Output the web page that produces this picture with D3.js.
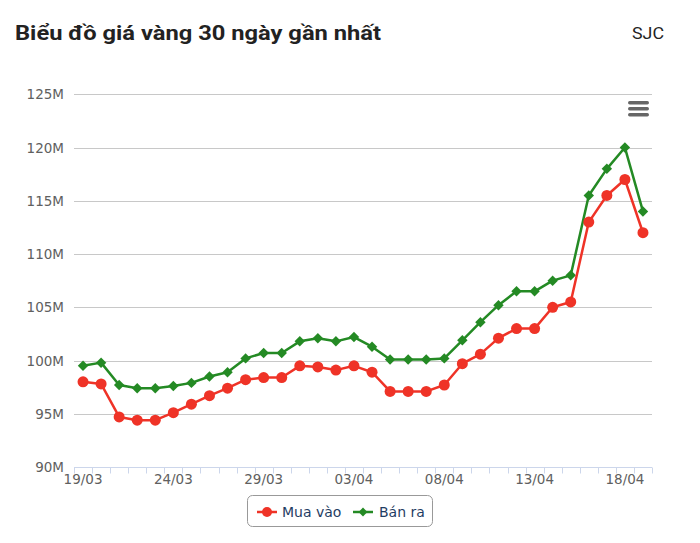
<!DOCTYPE html>
<html>
<head>
<meta charset="utf-8">
<script src="https://cdn.jsdelivr.net/npm/d3@7"></script>
<style>
  body { margin: 0; background: #fff; }
  svg { display: block; }
</style>
</head>
<body>
<svg id="chart" width="700" height="543"></svg>
<script>
const dates = ['19/03','20/03','21/03','22/03','23/03','24/03','25/03','26/03','27/03','28/03',
    '29/03','30/03','31/03','01/04','02/04','03/04','04/04','05/04','06/04','07/04',
    '08/04','09/04','10/04','11/04','12/04','13/04','14/04','15/04','16/04','17/04',
    '18/04','19/04'];

// triệu đồng / lượng
const muaVao = [98.0, 97.8, 94.7, 94.4, 94.4, 95.1, 95.9, 96.7, 97.4, 98.2,
    98.4, 98.4, 99.5, 99.4, 99.1, 99.5, 98.9, 97.1, 97.1, 97.1,
    97.7, 99.7, 100.6, 102.1, 103.0, 103.0, 105.0, 105.5, 113.0, 115.5,
    117.0, 112.0];
const banRa = [99.5, 99.8, 97.7, 97.4, 97.4, 97.6, 97.9, 98.5, 98.9, 100.2,
    100.7, 100.7, 101.8, 102.1, 101.8, 102.2, 101.3, 100.1, 100.1, 100.1,
    100.2, 101.9, 103.6, 105.2, 106.5, 106.5, 107.5, 108.0, 115.5, 118.0,
    120.0, 114.0];

const yTicks = [90, 95, 100, 105, 110, 115, 120, 125];
const labelEvery = 5;

const RED = '#ef3327';
const GREEN = '#248a24';

const svg = d3.select('#chart');

const margin = { left: 74, right: 48, top: 94.3, bottom: 76 };
const W = 700, H = 543;

const x = d3.scaleBand()
    .domain(dates)
    .range([margin.left, W - margin.right])
    .padding(0);

const y = d3.scaleLinear()
    .domain([90, 125])
    .range([H - margin.bottom, margin.top]);

// title
svg.append('text')
    .attr('x', 15)
    .attr('y', 40)
    .style('font-family', 'Roboto, sans-serif')
    .style('font-weight', 'bold')
    .style('font-size', '21px')
    .style('fill', '#222')
    .attr('textLength', 366)
    .attr('lengthAdjust', 'spacingAndGlyphs')
    .text('Biểu đồ giá vàng 30 ngày gần nhất');

svg.append('text')
    .attr('x', 664)
    .attr('y', 39)
    .attr('text-anchor', 'end')
    .style('font-family', 'Roboto, sans-serif')
    .style('font-size', '17px')
    .style('fill', '#222')
    .attr('textLength', 32)
    .attr('lengthAdjust', 'spacingAndGlyphs')
    .text('SJC');

// grid
const grid = svg.append('g');
yTicks.forEach(t => {
    if (t === 90) return;
    grid.append('line')
        .attr('x1', margin.left).attr('x2', W - margin.right)
        .attr('y1', Math.round(y(t)) + 0.5).attr('y2', Math.round(y(t)) + 0.5)
        .attr('stroke', '#c8c8c8')
        .attr('stroke-width', 1);
});

// y labels
yTicks.forEach(t => {
    svg.append('text')
        .attr('x', 64)
        .attr('y', y(t) + 5)
        .attr('text-anchor', 'end')
        .style('font-family', '"DejaVu Sans", sans-serif')
        .style('font-size', '13.5px')
        .style('fill', '#606060')
        .text(t + 'M');
});

// x axis
const axisY = Math.round(y(90)) + 0.5;
svg.append('line')
    .attr('x1', margin.left).attr('x2', W - margin.right)
    .attr('y1', axisY).attr('y2', axisY)
    .attr('stroke', '#ccd6eb');

const boundaries = dates.map(d => x(d)).concat([x(dates[dates.length - 1]) + x.bandwidth()]);
boundaries.forEach(bx => {
    svg.append('line')
        .attr('x1', Math.round(bx) + 0.5).attr('x2', Math.round(bx) + 0.5)
        .attr('y1', axisY).attr('y2', axisY + 6)
        .attr('stroke', '#ccd6eb');
});

dates.forEach((d, i) => {
    if (i % labelEvery !== 0) return;
    svg.append('text')
        .attr('x', x(d) + x.bandwidth() / 2)
        .attr('y', axisY + 16)
        .attr('text-anchor', 'middle')
        .style('font-family', '"DejaVu Sans", sans-serif')
        .style('font-size', '13.5px')
        .style('fill', '#606060')
        .text(d);
});

const cx = d => x(d) + x.bandwidth() / 2;

const line = d3.line()
    .x((v, i) => cx(dates[i]))
    .y(v => y(v));

// Bán ra
svg.append('path')
    .datum(banRa)
    .attr('d', line)
    .attr('fill', 'none')
    .attr('stroke', GREEN)
    .attr('stroke-width', 2.5)
    .attr('stroke-linejoin', 'round');

const diamond = d3.symbol().type(d3.symbolDiamond2).size(70);
svg.append('g').selectAll('path')
    .data(banRa)
    .join('path')
    .attr('d', diamond)
    .attr('transform', (v, i) => `translate(${cx(dates[i])},${y(v)})`)
    .attr('fill', GREEN);

// Mua vào
svg.append('path')
    .datum(muaVao)
    .attr('d', line)
    .attr('fill', 'none')
    .attr('stroke', RED)
    .attr('stroke-width', 2.5)
    .attr('stroke-linejoin', 'round');

svg.append('g').selectAll('circle')
    .data(muaVao)
    .join('circle')
    .attr('cx', (v, i) => cx(dates[i]))
    .attr('cy', v => y(v))
    .attr('r', 5.5)
    .attr('fill', RED);

// menu icon
[0, 6, 12].forEach(dy => {
    svg.append('rect')
        .attr('x', 628).attr('y', 101 + dy)
        .attr('width', 21).attr('height', 3.5)
        .attr('rx', 1.7)
        .attr('fill', '#666');
});

// legend
const lg = svg.append('g');
lg.append('rect')
    .attr('x', 247.5).attr('y', 495.5)
    .attr('width', 185).attr('height', 31)
    .attr('rx', 5)
    .attr('fill', '#fff')
    .attr('stroke', '#999');

const legendItems = [
    { name: 'Mua vào', color: RED, x0: 257, tx: 282, kind: 'circle' },
    { name: 'Bán ra', color: GREEN, x0: 353, tx: 379, kind: 'diamond' }
];
legendItems.forEach(it => {
    lg.append('line')
        .attr('x1', it.x0).attr('x2', it.x0 + 20)
        .attr('y1', 512).attr('y2', 512)
        .attr('stroke', it.color)
        .attr('stroke-width', 2.5);
    if (it.kind === 'circle') {
        lg.append('circle')
            .attr('cx', it.x0 + 10).attr('cy', 512).attr('r', 5)
            .attr('fill', it.color);
    } else {
        lg.append('path')
            .attr('d', d3.symbol().type(d3.symbolDiamond2).size(50))
            .attr('transform', `translate(${it.x0 + 10},512)`)
            .attr('fill', it.color);
    }
    lg.append('text')
        .attr('x', it.tx)
        .attr('y', 517)
        .style('font-family', '"DejaVu Sans", sans-serif')
        .style('font-size', '14px')
        .style('fill', '#1f3d63')
        .text(it.name);
});
</script>
</body>
</html>
